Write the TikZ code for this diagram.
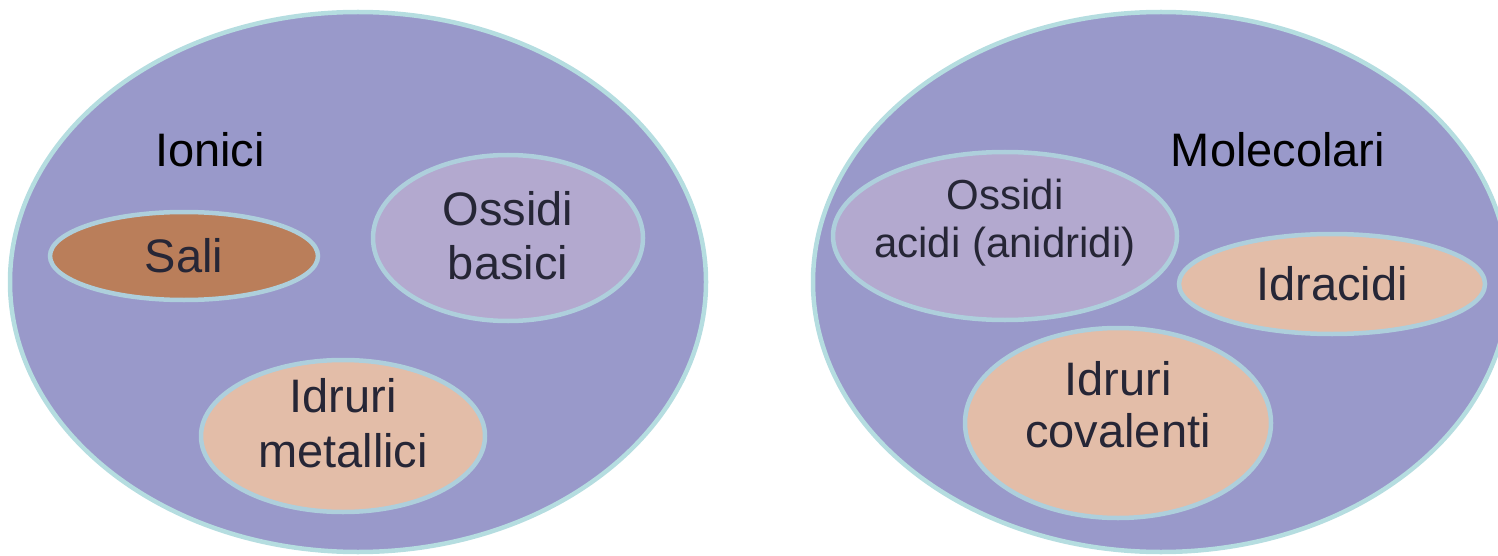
\documentclass[tikz,border=0pt]{standalone}
\usepackage{fontspec}
\setmainfont{Liberation Sans}
\usetikzlibrary{shapes.geometric}
\definecolor{setfill}{HTML}{9999CA}
\definecolor{setedge}{HTML}{B5DDE0}
\definecolor{subedge}{HTML}{AECFDC}
\definecolor{brownfill}{HTML}{BA7E5A}
\definecolor{lilacfill}{HTML}{B3A9CF}
\definecolor{peachfill}{HTML}{E3BDA8}
\definecolor{inktext}{HTML}{262636}
\tikzset{
  setbox/.style={ellipse, draw=setedge, line width=4.5pt, fill=setfill, inner sep=0pt},
  subset/.style={ellipse, draw=subedge, line width=4.5pt, inner sep=0pt},
  subtext/.style={text=inktext, align=center, inner sep=0pt,
    font=\fontsize{47}{54}\selectfont},
  setlabel/.style={font=\fontsize{47}{54}\selectfont, text=black}
}
\begin{document}
\begin{tikzpicture}[x=1pt,y=1pt]
\useasboundingbox (0,0) rectangle (1498,-556);
\begin{scope}
\clip (0,0) rectangle (1498,-556);
% two outer sets
\node[setbox, minimum width=696pt, minimum height=540pt] (ionic) at (358,-282) {};
\node[setbox, minimum width=696pt, minimum height=540pt] (molec) at (1161,-282) {};
\end{scope}
\node[setlabel] (ionlab) at (210,-150) {Ionici};
\node[setlabel] (mollab) at (1278,-150) {Molecolari};
% ionic subsets
\node[subset, fill=brownfill, minimum width=268pt, minimum height=88pt] (sali) at (184,-256) {};
\node[subtext] (salit) at (sali.center) {Sali};
\node[subset, fill=lilacfill, minimum width=270pt, minimum height=166pt] (ossbas) at (508,-238) {};
\node[subtext] (ossbast) at (508,-236) {Ossidi\\basici};
\node[subset, fill=peachfill, minimum width=284pt, minimum height=152pt] (idrmet) at (343,-436) {};
\node[subtext, font=\fontsize{47}{55}\selectfont] (idrmett) at (343,-423) {Idruri\\metallici};
% molecular subsets
\node[subset, fill=lilacfill, minimum width=344pt, minimum height=168pt] (ossac) at (1005,-236) {};
\node[subtext, font=\fontsize{42}{48}\selectfont] (ossact) at (1005,-223) {Ossidi\\acidi (anidridi)};
\node[subset, fill=peachfill, minimum width=306pt, minimum height=100pt] (idrac) at (1332,-284) {};
\node[subtext] (idract) at (idrac.center) {Idracidi};
\node[subset, fill=peachfill, minimum width=306pt, minimum height=190pt] (idrcov) at (1118,-423) {};
\node[subtext, font=\fontsize{47}{52}\selectfont] (idrcovt) at (1118,-405) {Idruri\\covalenti};
\end{tikzpicture}
\end{document}
